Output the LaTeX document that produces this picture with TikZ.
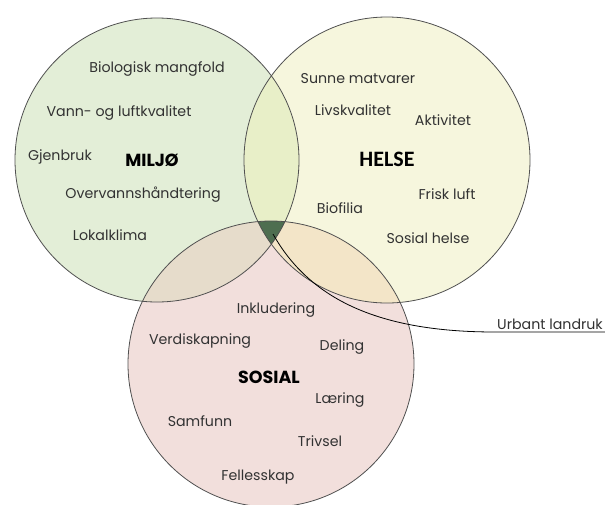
\documentclass[tikz,border=0pt]{standalone}
\usepackage{fontspec}
\setmainfont{Poppins}
\newfontfamily\helsefont{Carlito}
\usepackage{xcolor}
\definecolor{vdgreen}{RGB}{227,238,215}
\definecolor{vdyellow}{RGB}{246,246,221}
\definecolor{vdpink}{RGB}{242,223,220}
\definecolor{vdgreenyellow}{RGB}{232,239,200}
\definecolor{vdgreenpink}{RGB}{230,220,203}
\definecolor{vdyellowpink}{RGB}{243,229,200}
\definecolor{vdcore}{RGB}{78,110,80}
\definecolor{vdline}{RGB}{80,80,80}
\definecolor{vdtext}{RGB}{50,50,50}
\usetikzlibrary{positioning}

\tikzset{
  word/.style={font=\fontsize{14.2}{16}\selectfont, text=vdtext, inner sep=0pt},
  title/.style={font=\fontsize{17.5}{19}\selectfont\bfseries, text=black, inner sep=0pt},
  ring/.style={draw=vdline, line width=0.8pt},
}

\begin{document}
\begin{tikzpicture}[x=1pt, y=-1pt]
  \useasboundingbox (0,0) rectangle (605,504);
  \fill[white] (0,0) rectangle (605,504);

  % Circles
  \fill[vdgreen] (157,160) circle (142);
  \fill[vdyellow] (387,160) circle (143);
  \fill[vdpink] (271,364) circle (143);

  % Overlaps
  \begin{scope}
    \clip (157,160) circle (142);
    \fill[vdgreenyellow] (387,160) circle (143);
    \fill[vdgreenpink] (271,364) circle (143);
  \end{scope}
  \begin{scope}
    \clip (387,160) circle (143);
    \fill[vdyellowpink] (271,364) circle (143);
    \clip (157,160) circle (142);
    \fill[vdcore] (271,364) circle (143);
  \end{scope}

  \draw[ring] (157,160) circle (142);
  \draw[ring] (387,160) circle (143);
  \draw[ring] (271,364) circle (143);

  % MILJØ
  \node[title] (miljo) at (152,160) {MILJØ};
  \node[word] (mangfold) at (157,69) {Biologisk mangfold};
  \node[word] (vann) at (119,113) {Vann- og luftkvalitet};
  \node[word] (gjenbruk) at (60,157) {Gjenbruk};
  \node[word] (overvann) at (143,195) {Overvannshåndtering};
  \node[word] (lokalklima) at (110,235) {Lokalklima};

  % HELSE
  \node[title, font=\helsefont\fontsize{22}{24}\selectfont\bfseries] (helse) at (387,159) {HELSE};
  \node[word] (matvarer) at (358,79) {Sunne matvarer};
  \node[word] (livskvalitet) at (353,110) {Livskvalitet};
  \node[word] (aktivitet) at (443,120) {Aktivitet};
  \node[word] (luft) at (447,194) {Frisk luft};
  \node[word] (biofilia) at (340,208) {Biofilia};
  \node[word] (sosialhelse) at (428,238) {Sosial helse};

  % SOSIAL
  \node[title] (sosial) at (269,377) {SOSIAL};
  \node[word] (inkludering) at (276,310) {Inkludering};
  \node[word] (verdi) at (200,341) {Verdiskapning};
  \node[word] (deling) at (342,347) {Deling};
  \node[word] (laering) at (340,400) {Læring};
  \node[word] (samfunn) at (200,421) {Samfunn};
  \node[word] (trivsel) at (320,441) {Trivsel};
  \node[word] (felles) at (258,477) {Fellesskap};

  % Urbant landruk
  \coordinate (core) at (273,234);
  \node[word, anchor=south east, inner sep=2pt] (landruk) at (605,332) {Urbant landruk};
  \draw[black, line width=0.8pt] (core) .. controls (310,300) and (380,332) .. (landruk.south west) -- (landruk.south east);
\end{tikzpicture}
\end{document}
